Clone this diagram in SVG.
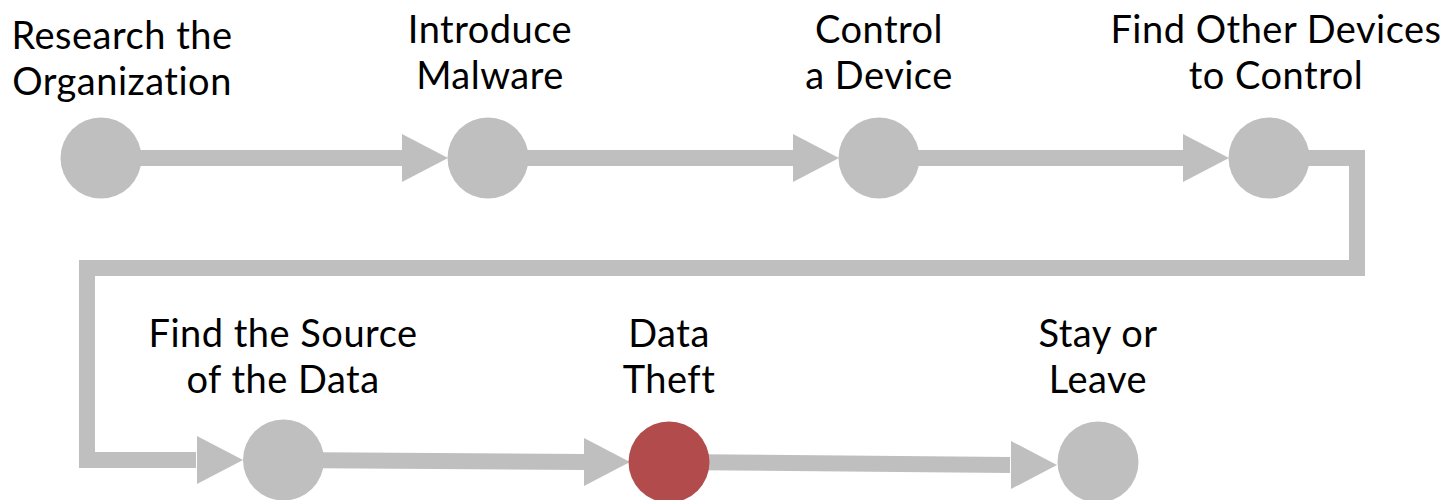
<svg xmlns="http://www.w3.org/2000/svg" width="1449" height="500" viewBox="0 0 1449 500">
  <style>
    .lbl { font-family: Lato, "Open Sans", "Liberation Sans", sans-serif; font-size: 38px; letter-spacing: 0.5px; fill: #000; text-anchor: middle; }
    .node { fill: #bfbfbf; }
    .hot { fill: #b24c4c; }
    .wire { fill: none; stroke: #bfbfbf; stroke-width: 16; stroke-linejoin: miter; }
    .head { fill: #bfbfbf; }
  </style>
  <defs>
    <!-- arrowhead pointing right, tip at origin -->
    <polygon id="ah" class="head" points="-46,-24 0,0 -46,24"/>
  </defs>

  <g id="connectors">
    <path class="wire" d="M101,158 H403"/>
    <use href="#ah" x="448" y="158"/>
    <path class="wire" d="M488,158 H794"/>
    <use href="#ah" x="839" y="158"/>
    <path class="wire" d="M879,158 H1184"/>
    <use href="#ah" x="1229" y="158"/>
    <path class="wire" d="M1269,158 H1357 V268 H87 V460 H196"/>
    <use href="#ah" x="243" y="460"/>
    <path class="wire" d="M283,460 L586,462"/>
    <use href="#ah" x="630" y="462"/>
    <path class="wire" d="M669,462 L1010,465"/>
    <use href="#ah" x="1057" y="465"/>
  </g>

  <g id="n1">
    <circle class="node" cx="101" cy="158" r="40.5"/>
    <text class="lbl" x="122" y="49">Research the<tspan x="122" dy="46">Organization</tspan></text>
  </g>
  <g id="n2">
    <circle class="node" cx="488" cy="158" r="40.5"/>
    <text class="lbl" x="490" y="43">Introduce<tspan x="490" dy="46">Malware</tspan></text>
  </g>
  <g id="n3">
    <circle class="node" cx="879" cy="158" r="40.5"/>
    <text class="lbl" x="879" y="43">Control<tspan x="879" dy="46">a Device</tspan></text>
  </g>
  <g id="n4">
    <circle class="node" cx="1269" cy="158" r="40.5"/>
    <text class="lbl" x="1276" y="43">Find Other Devices<tspan x="1276" dy="46">to Control</tspan></text>
  </g>
  <g id="n5">
    <circle class="node" cx="283.5" cy="460" r="40.5"/>
    <text class="lbl" x="283" y="347">Find the Source<tspan x="283" dy="46">of the Data</tspan></text>
  </g>
  <g id="n6">
    <circle class="hot" cx="669" cy="462" r="40.5"/>
    <text class="lbl" x="669" y="347">Data<tspan x="669" dy="46">Theft</tspan></text>
  </g>
  <g id="n7">
    <circle class="node" cx="1098" cy="462" r="40.5"/>
    <text class="lbl" x="1098" y="347">Stay or<tspan x="1098" dy="46">Leave</tspan></text>
  </g>
</svg>
